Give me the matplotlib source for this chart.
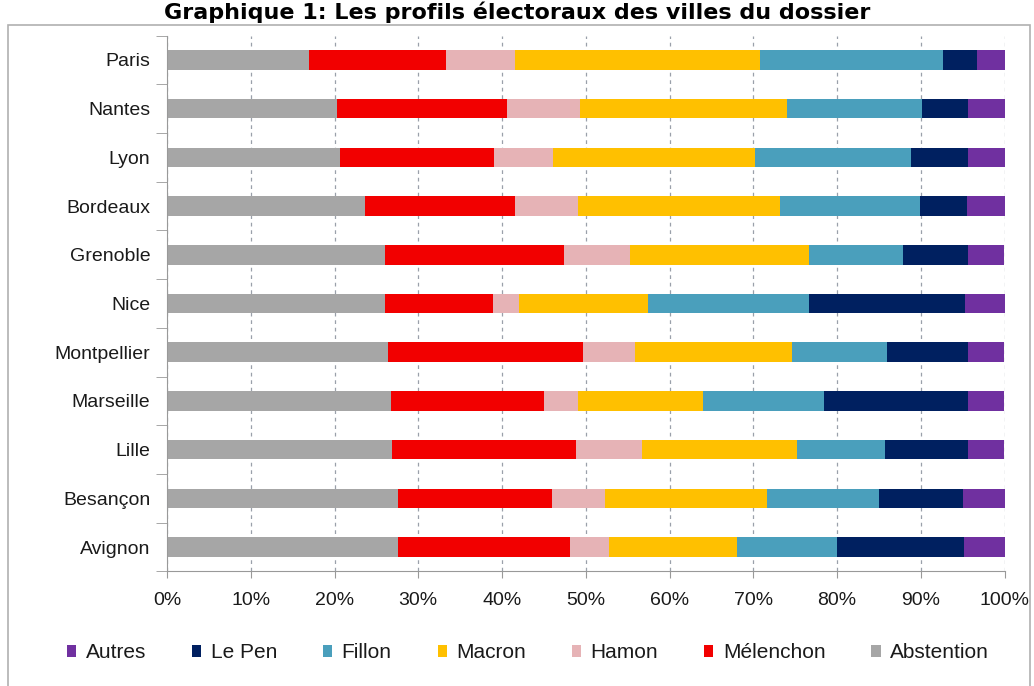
import numpy as np
import matplotlib
matplotlib.use('Agg')
import matplotlib.pyplot as plt
from matplotlib.patches import Rectangle

plt.rcParams['font.family'] = ['Liberation Sans', 'DejaVu Sans']

cities = ['Paris', 'Nantes', 'Lyon', 'Bordeaux', 'Grenoble', 'Nice',
          'Montpellier', 'Marseille', 'Lille', 'Besançon', 'Avignon']

# shares in %, stacked left to right
abstention = [17.0, 20.3, 20.7, 23.6, 26.0, 26.0, 26.4, 26.8, 26.9, 27.6, 27.6]
melenchon = [16.3, 20.3, 18.3, 18.0, 21.4, 12.9, 23.3, 18.2, 21.9, 18.4, 20.5]
hamon = [8.3, 8.7, 7.1, 7.5, 7.9, 3.1, 6.2, 4.1, 7.9, 6.3, 4.7]
macron = [29.2, 24.7, 24.1, 24.1, 21.4, 15.4, 18.7, 14.9, 18.5, 19.4, 15.3]
fillon = [21.9, 16.1, 18.6, 16.7, 11.2, 19.3, 11.4, 14.4, 10.5, 13.3, 11.9]
le_pen = [4.0, 5.5, 6.8, 5.6, 7.7, 18.6, 9.6, 17.2, 9.9, 10.0, 15.2]
autres = [3.3, 4.4, 4.4, 4.5, 4.4, 4.7, 4.4, 4.4, 4.3, 5.0, 4.8]

series = [
    ('Abstention', abstention, '#a6a6a6'),
    ('Mélenchon', melenchon, '#f20000'),
    ('Hamon', hamon, '#e6b3b6'),
    ('Macron', macron, '#ffc000'),
    ('Fillon', fillon, '#4a9fbc'),
    ('Le Pen', le_pen, '#002060'),
    ('Autres', autres, '#7030a0'),
]

fig = plt.figure(figsize=(10.34, 6.86), dpi=100)

# outer frame
fig.patches.append(Rectangle((8 / 1034, -0.01), 1022 / 1034, 1 - 25 / 686 + 0.01,
                             transform=fig.transFigure, fill=False,
                             edgecolor='#b0b0b0', linewidth=1.2))

fig.text(0.5, 1 - 19 / 686, 'Graphique 1: Les profils électoraux des villes du dossier',
         ha='center', va='baseline', fontsize=16, fontweight='bold',
         family='DejaVu Sans')

ax = fig.add_axes([167 / 1034, 1 - 571.4 / 686, 837.5 / 1034, 535.8 / 686])

y = np.arange(len(cities))
left = np.zeros(len(cities))
handles = {}
for name, vals, color in series:
    vals = np.array(vals) / 100
    h = ax.barh(y, vals, left=left, height=0.4, color=color, label=name)
    handles[name] = h
    left += vals

ax.set_ylim(len(cities) - 0.5, -0.5)
ax.set_xlim(0, 1)
ax.set_yticks(y)
ax.set_yticklabels(cities, fontsize=14, color='#1a1a1a')
ax.set_yticks(np.arange(len(cities) + 1) - 0.5, minor=True)
ax.tick_params(axis='y', which='major', length=0, pad=12)
ax.tick_params(axis='y', which='minor', length=8, color='#999999')

xt = np.arange(0, 1.01, 0.1)
ax.set_xticks(xt)
ax.set_xticklabels([f'{int(round(v * 100))}%' for v in xt], fontsize=14, color='#1a1a1a')
ax.tick_params(axis='x', length=5, color='#999999', pad=10)

ax.grid(axis='x', linestyle=(0, (3, 3)), color='#9aa0aa', linewidth=0.9)
ax.set_axisbelow(True)
for s in ['top', 'right']:
    ax.spines[s].set_visible(False)
for s in ['left', 'bottom']:
    ax.spines[s].set_color('#999999')

order = ['Autres', 'Le Pen', 'Fillon', 'Macron', 'Hamon', 'Mélenchon', 'Abstention']
fig.legend([handles[n] for n in order], order, loc='center',
           bbox_to_anchor=(528 / 1034, 1 - 653 / 686), ncol=7, frameon=False,
           fontsize=15, labelcolor='#1a1a1a', handlelength=0.45, handleheight=0.45,
           handletextpad=0.45, columnspacing=2.2)

fig.savefig('out.png', dpi=100)
